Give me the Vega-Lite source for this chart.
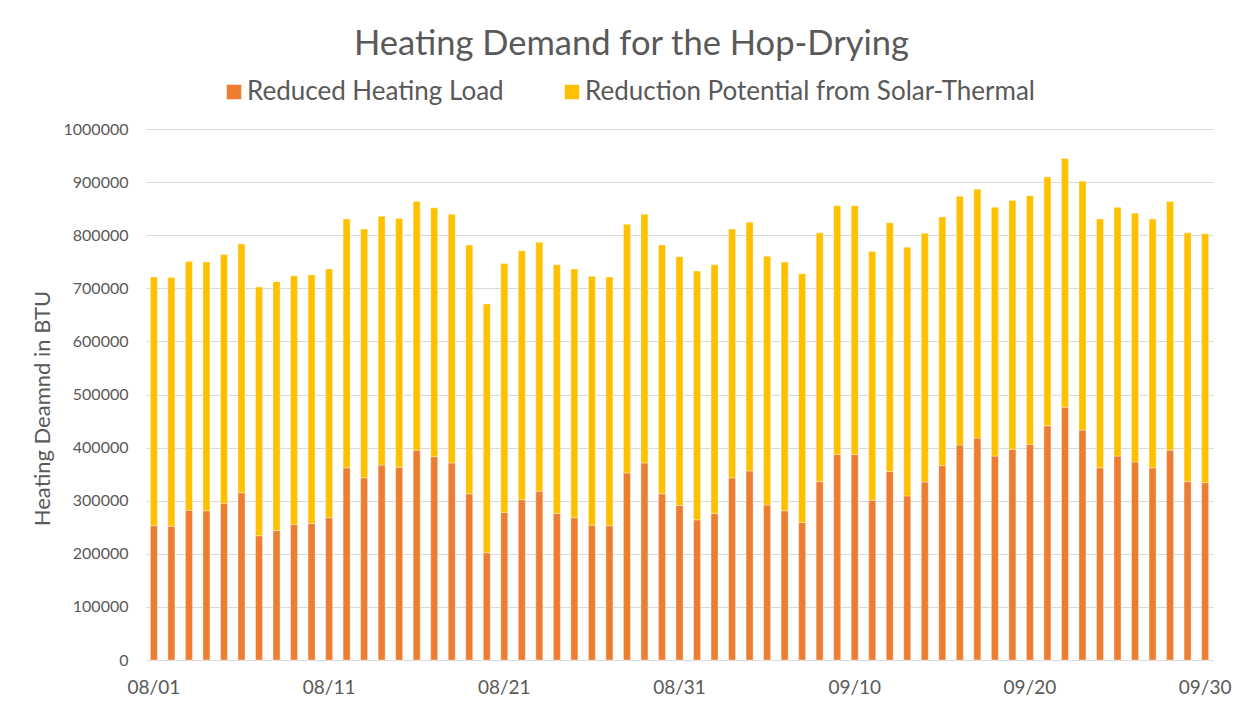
{
  "$schema": "https://vega.github.io/schema/vega-lite/v6.json",
  "autosize": "none",
  "width": 1067,
  "height": 531,
  "padding": {"left": 146, "top": 129, "right": 37, "bottom": 44},
  "background": "white",
  "title": {
    "text": "Heating Demand for the Hop-Drying",
    "anchor": "middle",
    "frame": "group",
    "dx": -48,
    "offset": 17,
    "font": "Lato",
    "fontSize": 34.5,
    "fontWeight": "normal",
    "color": "#595959"
  },
  "data": {
    "values": [
      {"date": "08/01", "Reduced Heating Load": 253000, "Reduction Potential from Solar-Thermal": 468500},
      {"date": "08/02", "Reduced Heating Load": 252000, "Reduction Potential from Solar-Thermal": 468500},
      {"date": "08/03", "Reduced Heating Load": 282000, "Reduction Potential from Solar-Thermal": 468500},
      {"date": "08/04", "Reduced Heating Load": 281000, "Reduction Potential from Solar-Thermal": 468500},
      {"date": "08/05", "Reduced Heating Load": 295000, "Reduction Potential from Solar-Thermal": 468500},
      {"date": "08/06", "Reduced Heating Load": 315000, "Reduction Potential from Solar-Thermal": 468500},
      {"date": "08/07", "Reduced Heating Load": 234000, "Reduction Potential from Solar-Thermal": 468500},
      {"date": "08/08", "Reduced Heating Load": 244000, "Reduction Potential from Solar-Thermal": 468500},
      {"date": "08/09", "Reduced Heating Load": 255000, "Reduction Potential from Solar-Thermal": 468500},
      {"date": "08/10", "Reduced Heating Load": 257000, "Reduction Potential from Solar-Thermal": 468500},
      {"date": "08/11", "Reduced Heating Load": 268000, "Reduction Potential from Solar-Thermal": 468500},
      {"date": "08/12", "Reduced Heating Load": 362000, "Reduction Potential from Solar-Thermal": 468500},
      {"date": "08/13", "Reduced Heating Load": 343000, "Reduction Potential from Solar-Thermal": 468500},
      {"date": "08/14", "Reduced Heating Load": 367000, "Reduction Potential from Solar-Thermal": 468500},
      {"date": "08/15", "Reduced Heating Load": 363000, "Reduction Potential from Solar-Thermal": 468500},
      {"date": "08/16", "Reduced Heating Load": 395000, "Reduction Potential from Solar-Thermal": 468500},
      {"date": "08/17", "Reduced Heating Load": 383000, "Reduction Potential from Solar-Thermal": 468500},
      {"date": "08/18", "Reduced Heating Load": 371000, "Reduction Potential from Solar-Thermal": 468500},
      {"date": "08/19", "Reduced Heating Load": 313000, "Reduction Potential from Solar-Thermal": 468500},
      {"date": "08/20", "Reduced Heating Load": 202000, "Reduction Potential from Solar-Thermal": 468500},
      {"date": "08/21", "Reduced Heating Load": 278000, "Reduction Potential from Solar-Thermal": 468500},
      {"date": "08/22", "Reduced Heating Load": 302000, "Reduction Potential from Solar-Thermal": 468500},
      {"date": "08/23", "Reduced Heating Load": 318000, "Reduction Potential from Solar-Thermal": 468500},
      {"date": "08/24", "Reduced Heating Load": 276000, "Reduction Potential from Solar-Thermal": 468500},
      {"date": "08/25", "Reduced Heating Load": 268000, "Reduction Potential from Solar-Thermal": 468500},
      {"date": "08/26", "Reduced Heating Load": 254000, "Reduction Potential from Solar-Thermal": 468500},
      {"date": "08/27", "Reduced Heating Load": 253000, "Reduction Potential from Solar-Thermal": 468500},
      {"date": "08/28", "Reduced Heating Load": 352000, "Reduction Potential from Solar-Thermal": 468500},
      {"date": "08/29", "Reduced Heating Load": 371000, "Reduction Potential from Solar-Thermal": 468500},
      {"date": "08/30", "Reduced Heating Load": 313000, "Reduction Potential from Solar-Thermal": 468500},
      {"date": "08/31", "Reduced Heating Load": 291000, "Reduction Potential from Solar-Thermal": 468500},
      {"date": "09/01", "Reduced Heating Load": 264000, "Reduction Potential from Solar-Thermal": 468500},
      {"date": "09/02", "Reduced Heating Load": 276000, "Reduction Potential from Solar-Thermal": 468500},
      {"date": "09/03", "Reduced Heating Load": 343000, "Reduction Potential from Solar-Thermal": 468500},
      {"date": "09/04", "Reduced Heating Load": 356000, "Reduction Potential from Solar-Thermal": 468500},
      {"date": "09/05", "Reduced Heating Load": 292000, "Reduction Potential from Solar-Thermal": 468500},
      {"date": "09/06", "Reduced Heating Load": 281000, "Reduction Potential from Solar-Thermal": 468500},
      {"date": "09/07", "Reduced Heating Load": 259000, "Reduction Potential from Solar-Thermal": 468500},
      {"date": "09/08", "Reduced Heating Load": 336000, "Reduction Potential from Solar-Thermal": 468500},
      {"date": "09/09", "Reduced Heating Load": 387000, "Reduction Potential from Solar-Thermal": 468500},
      {"date": "09/10", "Reduced Heating Load": 387000, "Reduction Potential from Solar-Thermal": 468500},
      {"date": "09/11", "Reduced Heating Load": 301000, "Reduction Potential from Solar-Thermal": 468500},
      {"date": "09/12", "Reduced Heating Load": 355000, "Reduction Potential from Solar-Thermal": 468500},
      {"date": "09/13", "Reduced Heating Load": 309000, "Reduction Potential from Solar-Thermal": 468500},
      {"date": "09/14", "Reduced Heating Load": 335000, "Reduction Potential from Solar-Thermal": 468500},
      {"date": "09/15", "Reduced Heating Load": 366000, "Reduction Potential from Solar-Thermal": 468500},
      {"date": "09/16", "Reduced Heating Load": 405000, "Reduction Potential from Solar-Thermal": 468500},
      {"date": "09/17", "Reduced Heating Load": 418000, "Reduction Potential from Solar-Thermal": 468500},
      {"date": "09/18", "Reduced Heating Load": 384000, "Reduction Potential from Solar-Thermal": 468500},
      {"date": "09/19", "Reduced Heating Load": 397000, "Reduction Potential from Solar-Thermal": 468500},
      {"date": "09/20", "Reduced Heating Load": 406000, "Reduction Potential from Solar-Thermal": 468500},
      {"date": "09/21", "Reduced Heating Load": 441000, "Reduction Potential from Solar-Thermal": 468500},
      {"date": "09/22", "Reduced Heating Load": 476000, "Reduction Potential from Solar-Thermal": 468500},
      {"date": "09/23", "Reduced Heating Load": 433000, "Reduction Potential from Solar-Thermal": 468500},
      {"date": "09/24", "Reduced Heating Load": 362000, "Reduction Potential from Solar-Thermal": 468500},
      {"date": "09/25", "Reduced Heating Load": 384000, "Reduction Potential from Solar-Thermal": 468500},
      {"date": "09/26", "Reduced Heating Load": 373000, "Reduction Potential from Solar-Thermal": 468500},
      {"date": "09/27", "Reduced Heating Load": 362000, "Reduction Potential from Solar-Thermal": 468500},
      {"date": "09/28", "Reduced Heating Load": 395000, "Reduction Potential from Solar-Thermal": 468500},
      {"date": "09/29", "Reduced Heating Load": 336000, "Reduction Potential from Solar-Thermal": 468500},
      {"date": "09/30", "Reduced Heating Load": 334000, "Reduction Potential from Solar-Thermal": 468500}
    ]
  },
  "transform": [
    {"fold": ["Reduced Heating Load", "Reduction Potential from Solar-Thermal"], "as": ["series", "value"]}
  ],
  "mark": {"type": "bar", "stroke": "#ffffff", "strokeWidth": 0.6, "strokeOpacity": 0.6},
  "encoding": {
    "x": {
      "field": "date",
      "type": "ordinal",
      "sort": null,
      "scale": {"paddingInner": 0.6, "paddingOuter": 0.25},
      "axis": {
        "title": null,
        "values": ["08/01", "08/11", "08/21", "08/31", "09/10", "09/20", "09/30"],
        "labelAngle": 0,
        "ticks": false,
        "labelPadding": 18,
        "labelFont": "Lato",
        "labelFontSize": 19,
        "labelColor": "#595959",
        "domainColor": "#d9d9d9",
        "domainWidth": 1,
        "grid": false
      }
    },
    "y": {
      "field": "value",
      "type": "quantitative",
      "stack": "zero",
      "scale": {"domain": [0, 1000000], "nice": false},
      "axis": {
        "title": "Heating Deamnd in BTU",
        "titleFont": "Lato",
        "titleFontSize": 22,
        "titleFontWeight": "normal",
        "titleColor": "#595959",
        "titleX": -104,
        "titleY": 279,
        "titleAngle": -90,
        "titleAlign": "center",
        "titleBaseline": "middle",
        "values": [0, 100000, 200000, 300000, 400000, 500000, 600000, 700000, 800000, 900000, 1000000],
        "format": "d",
        "ticks": false,
        "domain": false,
        "labelPadding": 18,
        "labelFont": "Lato",
        "labelFontSize": 16,
        "labelColor": "#595959",
        "grid": true,
        "gridColor": "#d9d9d9",
        "gridWidth": 1
      }
    },
    "color": {
      "field": "series",
      "type": "nominal",
      "scale": {
        "domain": ["Reduced Heating Load", "Reduction Potential from Solar-Thermal"],
        "range": ["#ED7D31", "#FFC000"]
      },
      "legend": {
        "title": null,
        "orient": "none",
        "direction": "horizontal",
        "legendX": 75,
        "legendY": -50,
        "symbolType": "square",
        "symbolSize": 210,
        "symbolStrokeWidth": 0,
        "labelFont": "Lato",
        "labelFontSize": 26,
        "labelColor": "#595959",
        "labelOffset": 0,
        "columnPadding": 55,
        "labelLimit": 0
      }
    },
    "order": {"field": "series", "sort": "ascending"}
  },
  "config": {
    "view": {"stroke": null}
  }
}
